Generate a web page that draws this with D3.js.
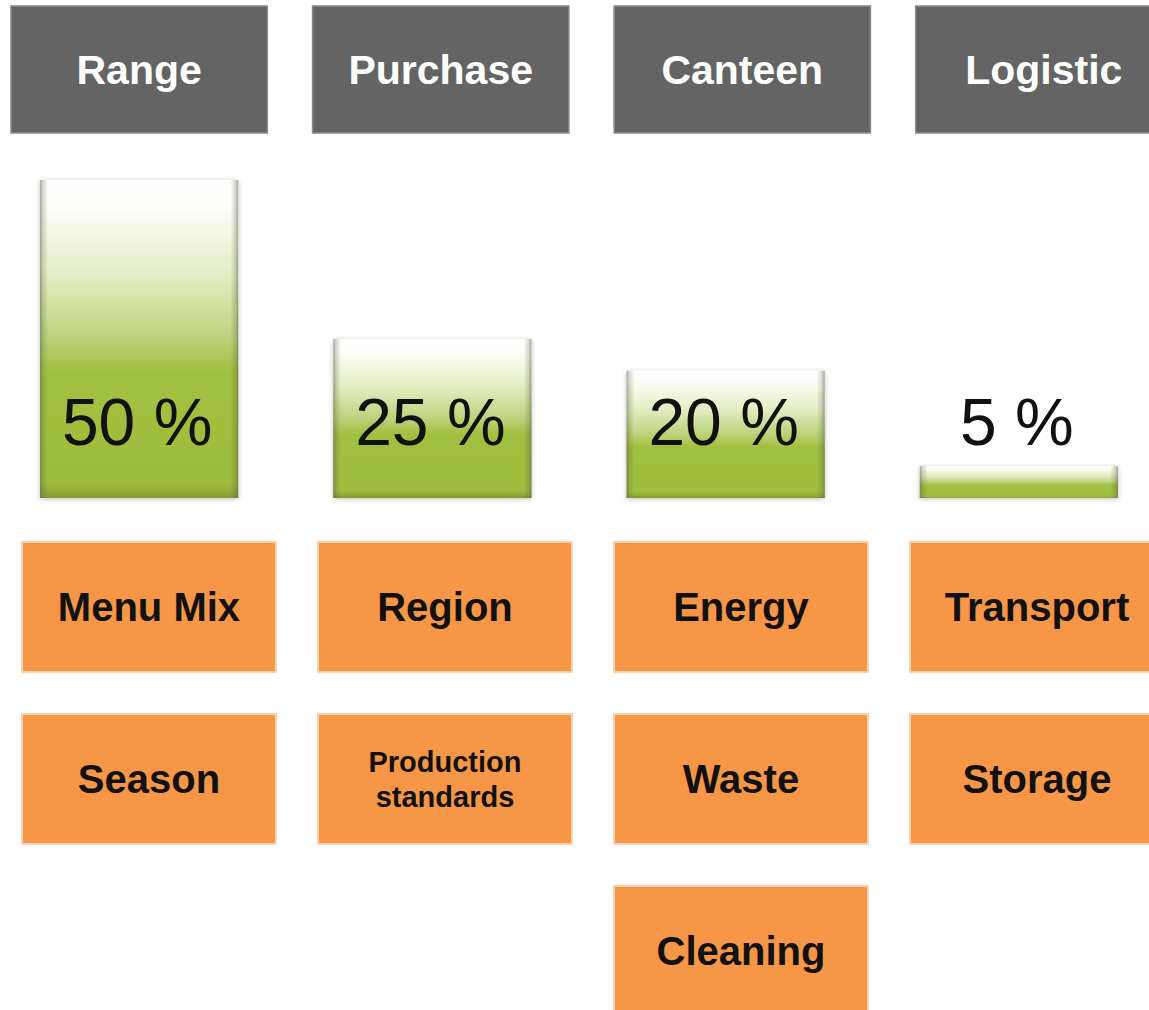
<!DOCTYPE html>
<html>
<head>
<meta charset="utf-8">
<script src="https://cdn.jsdelivr.net/npm/d3@7"></script>
<style>
  html, body { margin: 0; padding: 0; background: #ffffff; }
  svg { display: block; }
</style>
</head>
<body>
<svg id="chart" width="1149" height="1010"></svg>
<script>
// ---- data ----
const categories = ["Range", "Purchase", "Canteen", "Logistic"];
const shares = [50, 25, 20, 5];
const shareLabels = ["50 %", "25 %", "20 %", "5 %"];
const factorsRange = ["Menu Mix", "Season"];
const factorsPurchase = ["Region", "Production standards"];
const factorsCanteen = ["Energy", "Waste", "Cleaning"];
const factorsLogistic = ["Transport", "Storage"];
const factors = [factorsRange, factorsPurchase, factorsCanteen, factorsLogistic];

// ---- layout ----
const svg = d3.select("#chart");
const defs = svg.append("defs");
const font = "'Liberation Sans', Arial, Helvetica, sans-serif";

const xHead = d3.scaleBand().domain(categories).range([11, 1172]).paddingInner(0.15);
const xBar = d3.scaleBand().domain(categories).range([40, 1118]).paddingInner(0.324);
const xBox = d3.scaleBand().domain(categories).range([22, 1164]).paddingInner(0.142);
const yVal = d3.scaleLinear().domain([0, 50]).range([498, 180]);
const yRow = d3.scaleBand().domain([0, 1, 2]).range([542, 1016]).paddingInner(0.244);

// gradients
const g1 = defs.append("linearGradient").attr("id", "barGrad")
  .attr("x1", 0).attr("y1", 0).attr("x2", 0).attr("y2", 1);
[[0, "#ffffff"], [0.08, "#fdfef8"], [0.3, "#e4edc4"], [0.5, "#bcd27a"], [0.6, "#a2c040"], [0.95, "#9fbd3c"], [0.98, "#92aa38"], [1, "#869b33"]]
  .forEach(([o, c]) => g1.append("stop").attr("offset", o).attr("stop-color", c));

const g2 = defs.append("linearGradient").attr("id", "edgeGrad")
  .attr("x1", 0).attr("y1", 0).attr("x2", 1).attr("y2", 0);
[[0, "rgba(90,100,70,0.55)"], [0.015, "rgba(90,100,70,0.25)"], [0.04, "rgba(90,100,70,0)"], [0.96, "rgba(90,100,70,0)"], [0.985, "rgba(90,100,70,0.25)"], [1, "rgba(90,100,70,0.55)"]]
  .forEach(([o, c]) => g2.append("stop").attr("offset", o).attr("stop-color", c));

const shadow = defs.append("filter").attr("id", "shadow").attr("x", "-10%").attr("y", "-10%").attr("width", "120%").attr("height", "130%");
shadow.append("feGaussianBlur").attr("in", "SourceAlpha").attr("stdDeviation", 2.5).attr("result", "b");
shadow.append("feOffset").attr("in", "b").attr("dx", 0).attr("dy", 1).attr("result", "o");
shadow.append("feComponentTransfer").attr("in", "o").attr("result", "s")
  .append("feFuncA").attr("type", "linear").attr("slope", 0.25);
const fm = shadow.append("feMerge");
fm.append("feMergeNode").attr("in", "s");
fm.append("feMergeNode").attr("in", "SourceGraphic");

// ---- headers ----
const head = svg.append("g").selectAll("g").data(categories).join("g");
head.append("rect")
  .attr("x", d => xHead(d)).attr("y", 6)
  .attr("width", xHead.bandwidth()).attr("height", 127)
  .attr("fill", "#646464").attr("stroke", "#8a8a8a").attr("stroke-width", 1.5);
head.append("text")
  .attr("x", d => xHead(d) + xHead.bandwidth() / 2).attr("y", 84)
  .attr("text-anchor", "middle").attr("fill", "#ffffff")
  .attr("font-family", font).attr("font-weight", "bold").attr("font-size", 41)
  .text(d => d);

// ---- bars ----
const bars = svg.append("g").selectAll("g").data(categories).join("g");
bars.append("rect")
  .attr("x", d => xBar(d)).attr("y", (d, i) => yVal(shares[i]))
  .attr("width", xBar.bandwidth()).attr("height", (d, i) => yVal(0) - yVal(shares[i]))
  .attr("fill", "url(#barGrad)").attr("filter", "url(#shadow)");
bars.append("rect")
  .attr("x", d => xBar(d)).attr("y", (d, i) => yVal(shares[i]))
  .attr("width", xBar.bandwidth()).attr("height", (d, i) => yVal(0) - yVal(shares[i]))
  .attr("fill", "url(#edgeGrad)");
bars.append("text")
  .attr("x", d => xBar(d) + xBar.bandwidth() / 2 - 2).attr("y", 445)
  .attr("text-anchor", "middle").attr("fill", "#111111")
  .attr("font-family", font).attr("font-size", 66)
  .text((d, i) => shareLabels[i]);

// ---- factor boxes ----
const boxData = [];
categories.forEach((c, i) => factors[i].forEach((f, r) => boxData.push({ cat: c, row: r, label: f })));
const boxes = svg.append("g").selectAll("g").data(boxData).join("g");
boxes.append("rect")
  .attr("x", d => xBox(d.cat)).attr("y", d => yRow(d.row))
  .attr("width", xBox.bandwidth()).attr("height", yRow.bandwidth())
  .attr("fill", "#f79646").attr("stroke", "#fbd3b2").attr("stroke-width", 2);
boxes.each(function(d) {
  const g = d3.select(this);
  const cx = xBox(d.cat) + xBox.bandwidth() / 2;
  const cy = yRow(d.row) + yRow.bandwidth() / 2;
  const words = d.label.length > 12 ? d.label.split(" ") : [d.label];
  const fs = words.length > 1 ? 29 : 40;
  const lh = fs * 1.2;
  words.forEach((w, k) => {
    g.append("text")
      .attr("x", cx).attr("y", cy + fs * 0.36 + (k - (words.length - 1) / 2) * lh)
      .attr("text-anchor", "middle").attr("fill", "#111111")
      .attr("font-family", font).attr("font-weight", "bold").attr("font-size", fs)
      .text(w);
  });
});
</script>
</body>
</html>
